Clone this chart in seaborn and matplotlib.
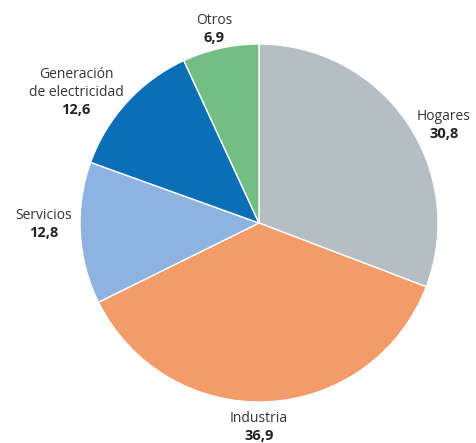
import matplotlib
matplotlib.use("Agg")
import matplotlib.pyplot as plt
import seaborn as sns

categories = ["Hogares", "Industria", "Servicios", "Generación\nde electricidad", "Otros"]
values = [30.8, 36.9, 12.8, 12.6, 6.9]
value_labels = ["30,8", "36,9", "12,8", "12,6", "6,9"]
colors = ["#B4BEC3", "#F49B6A", "#8FB3E0", "#0A6FB7", "#73BE84"]

sns.set_theme(style="white")
plt.rcParams['font.family'] = ['Open Sans', 'DejaVu Sans']

W, H = 476, 443
fig = plt.figure(figsize=(W / 100, H / 100), dpi=100)
ax = fig.add_axes([0, 0, 1, 1])
ax.set_xlim(0, W)
ax.set_ylim(0, H)
ax.set_aspect("equal")
ax.axis("off")

palette = sns.color_palette(colors)
ax.pie(values, colors=palette, startangle=90, counterclock=False,
       center=(259, H - 223), radius=179,
       wedgeprops=dict(edgecolor="white", linewidth=1))
ax.set_xlim(0, W)
ax.set_ylim(0, H)

# label anchor positions (pixel coords from top): centre of first name line
label_pos = [(444, 116), (259, 418), (44, 215), (76, 75), (214, 20)]
line_h = 17.5
for name, val, (x, y) in zip(categories, value_labels, label_pos):
    nlines = name.count("\n") + 1
    ax.text(x, H - (y + line_h / 2 * (nlines - 1)), name, ha="center",
            va="center", fontsize=10, color="#333333", linespacing=1.3)
    ax.text(x, H - (y + line_h * nlines), val, ha="center", va="center",
            fontsize=10.5, fontweight="bold", color="#222222")

fig.savefig("out.png", dpi=100)
